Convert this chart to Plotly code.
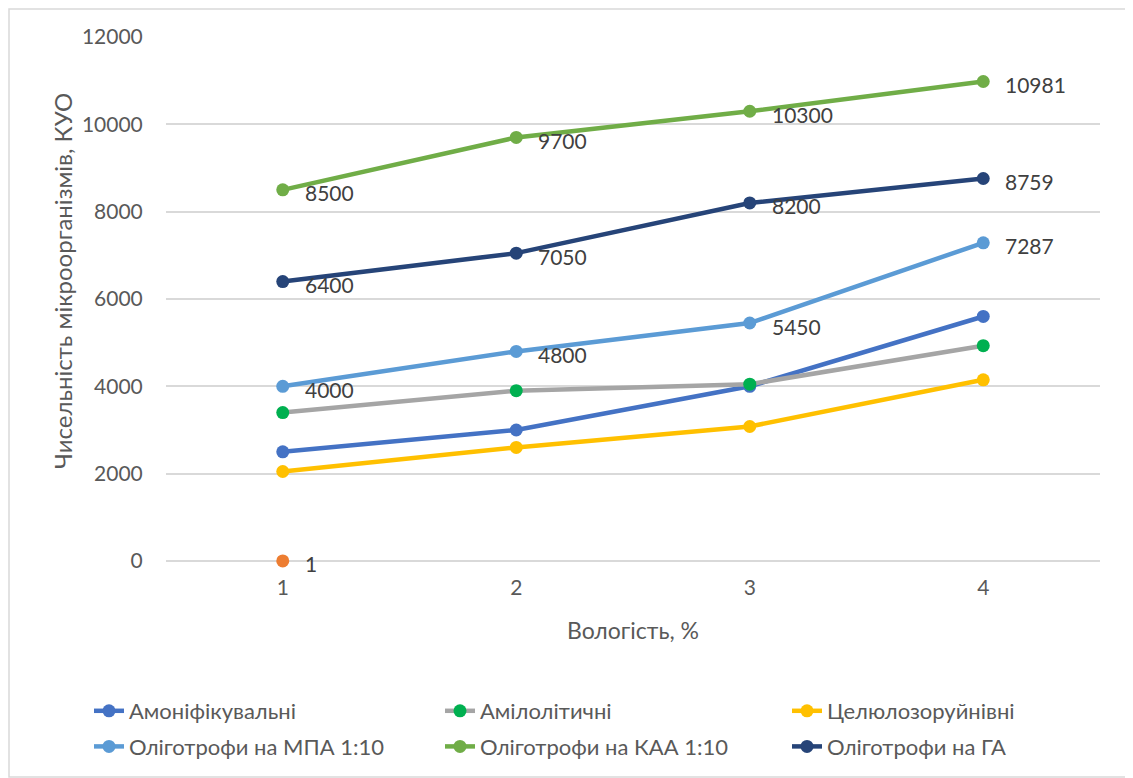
import plotly.graph_objects as go

x_vals = [1, 2, 3, 4]
x_ticks = ["1", "2", "3", "4"]

amonif = [2500, 3000, 4000, 5600]
amilol = [3400, 3900, 4050, 4930]
celul = [2050, 2600, 3080, 4150]
mpa = [4000, 4800, 5450, 7287]
kaa = [8500, 9700, 10300, 10981]
ga = [6400, 7050, 8200, 8759]
extra_x = [1]
extra_y = [1]

W, H = 1123, 770
ML, MT = 158, 29
PR, PB = 1092, 553
MR, MB = W - PR, H - PB
PW, PH = PR - ML, PB - MT

FONT = "Lato, Calibri, Carlito, sans-serif"

fig = go.Figure()

def add(name, y, line_color, marker_color=None, labels=False, show=True, x=x_vals, legend="legend", lw=4.5):
    fig.add_trace(go.Scatter(
        x=x, y=y, name=name,
        mode="lines+markers",
        line=dict(color=line_color, width=lw),
        marker=dict(color=marker_color or line_color, size=13),
        showlegend=show,
        legend=legend,
        legendgroup=name,
        cliponaxis=False,
    ))
    if labels:
        for xi, yi in zip(x, y):
            fig.add_annotation(x=xi, y=yi, xref="x", yref="y", text=str(yi),
                               showarrow=False, xanchor="left", yanchor="middle",
                               xshift=20, yshift=-3,
                               font=dict(size=21, color="#404040", family=FONT))

add("Амоніфікувальні", amonif, "#4472C4", legend="legend")
add("extra", extra_y, "#ED7D31", labels=True, show=False, x=extra_x)
add("Амілолітичні", amilol, "#A5A5A5", marker_color="#00B050", legend="legend2")
add("Целюлозоруйнівні", celul, "#FFC000", legend="legend3")
add("Оліготрофи на МПА 1:10", mpa, "#5B9BD5", labels=True, legend="legend")
add("Оліготрофи на КАА 1:10", kaa, "#70AD47", labels=True, legend="legend2")
add("Оліготрофи на ГА", ga, "#264478", labels=True, legend="legend3")

# chart border
fig.add_shape(type="rect", xref="paper", yref="paper",
              x0=(1 - ML) / PW, x1=(W - 1 - ML) / PW,
              y0=-(H - 1 - PB) / PH, y1=1 + (MT - 1) / PH,
              line=dict(color="#D9D9D9", width=1.5), fillcolor="rgba(0,0,0,0)", layer="below")

# y-axis title
fig.add_annotation(text="Чисельність мікроорганізмів, КУО", textangle=-90,
                   xref="paper", yref="paper",
                   x=(54 - ML) / PW, y=(PB - 273) / PH,
                   xanchor="center", yanchor="middle", showarrow=False,
                   font=dict(size=24, color="#595959", family=FONT))

def leg(px_x):
    return dict(
        orientation="v", x=(px_x - ML) / PW, xanchor="left",
        y=-(682 - PB) / PH, yanchor="top",
        font=dict(size=22, color="#595959", family=FONT),
        bgcolor="rgba(0,0,0,0)", itemwidth=30, tracegroupgap=4,
    )

fig.update_layout(
    width=W, height=H,
    margin=dict(l=ML, r=MR, t=MT, b=MB, autoexpand=False),
    paper_bgcolor="white", plot_bgcolor="white",
    font=dict(family=FONT, color="#595959"),
    xaxis=dict(
        range=[0.5, 4.5], tickvals=x_vals, ticktext=x_ticks, automargin=False,
        showgrid=False, zeroline=False, showline=False,
        tickfont=dict(size=21, color="#595959"), ticks="outside", ticklen=8, tickcolor="rgba(0,0,0,0)",
        title=dict(text="Вологість, %", font=dict(size=23, color="#595959"), standoff=24),
    ),
    yaxis=dict(
        range=[0, 12000], dtick=2000, tickformat="d", automargin=False,
        showgrid=True, gridcolor="#D9D9D9", gridwidth=1.5,
        zeroline=True, zerolinecolor="#D9D9D9", zerolinewidth=1.5,
        showline=False, tickfont=dict(size=21, color="#595959"),
        ticks="outside", ticklen=18, tickcolor="rgba(0,0,0,0)",
    ),
    legend=leg(81),
    legend2=leg(432),
    legend3=leg(779),
)

fig.write_html("out.html")
